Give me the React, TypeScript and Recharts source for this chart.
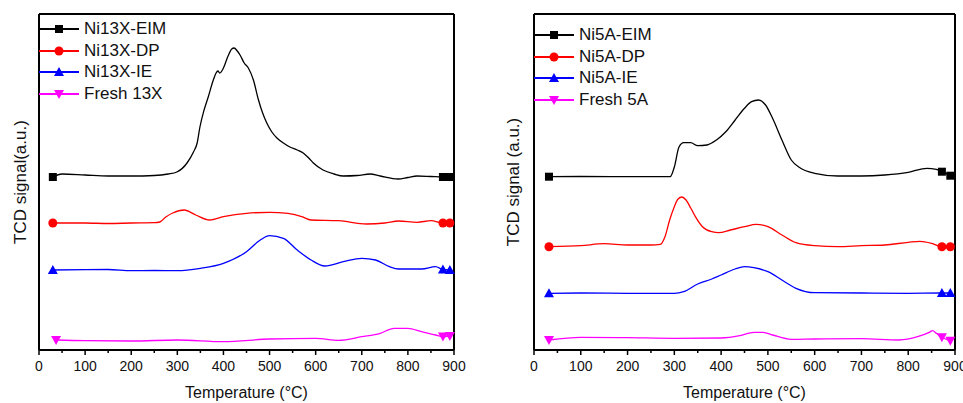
import { LineChart, Line, XAxis, YAxis, Legend } from 'recharts'

type Pt = [number, number]

const FONT = '"Liberation Sans", Arial, sans-serif'

// temperature axis ticks (every 50, labelled every 100)
const tempTicks = [0, 50, 100, 150, 200, 250, 300, 350, 400, 450, 500, 550, 600, 650, 700, 750, 800, 850, 900]

const names13X = ['Ni13X-EIM', 'Ni13X-DP', 'Ni13X-IE', 'Fresh 13X']
const names5A = ['Ni5A-EIM', 'Ni5A-DP', 'Ni5A-IE', 'Fresh 5A']
const colors = ['#000000', '#ff0000', '#0000ff', '#ff00ff']
const shapes = ['square', 'circle', 'triangle', 'down']

// TCD signal, stacked traces (a.u.)
const ni13xEIM: Pt[] = [
  [30, 173], [50, 176], [100, 175], [150, 174], [200, 174], [250, 174.5], [280, 176], [299, 178],
  [321, 187], [335, 198], [343, 207], [349, 223], [358, 240], [367, 253], [378, 270], [384, 277],
  [388, 279], [392, 277], [400, 282], [410, 294], [418, 301], [423, 302], [430, 299], [436, 295],
  [445, 287], [454, 282], [465, 270], [476, 250], [485, 237], [494, 227], [505, 218], [516, 212],
  [530, 207], [544, 203], [560, 200], [573, 197], [585, 192], [595, 187], [616, 180], [640, 176],
  [660, 174], [690, 174.5], [718, 176], [740, 174], [779, 171], [800, 172.5], [820, 174], [850, 173.5],
  [876, 173], [891, 173],
]
const ni13xDP: Pt[] = [
  [30, 127], [100, 127], [150, 126.5], [200, 127], [250, 127.3], [262, 128], [275, 133], [290, 137],
  [315, 140], [340, 135], [370, 130], [400, 133.3], [450, 136.7], [500, 137.7], [540, 136.7], [570, 133.3],
  [590, 130], [650, 129.3], [710, 126], [750, 127], [780, 129], [820, 127.7], [850, 129.3], [876, 127],
  [891, 127],
]
const ni13xIE: Pt[] = [
  [30, 80], [100, 80.3], [150, 80.5], [200, 79.3], [250, 79.5], [300, 79.3], [350, 81.7], [400, 86.7],
  [450, 98.3], [480, 110], [500, 114.3], [530, 111.7], [560, 100], [590, 90], [620, 84], [660, 88.3],
  [700, 91.7], [730, 90], [760, 83.3], [780, 81], [830, 81], [860, 83.3], [876, 80.5], [891, 80],
]
const fresh13X: Pt[] = [
  [37, 10], [100, 9.3], [200, 9], [300, 10], [400, 8.3], [500, 11], [600, 11.7], [650, 9.7],
  [700, 13.3], [740, 16.7], [770, 21.7], [800, 21.7], [830, 18.3], [860, 15], [876, 13.5], [891, 14],
]

const ni5aEIM: Pt[] = [
  [32, 173.3], [100, 173.5], [200, 173.3], [291, 173.3], [300, 183], [310, 203], [320, 207.3], [335, 207.3],
  [350, 204.3], [370, 205], [390, 210], [410, 218.3], [430, 230], [450, 241.7], [465, 248.3], [480, 250],
  [495, 245], [510, 231.7], [530, 210], [550, 190], [570, 181.7], [600, 176.7], [650, 174], [700, 174],
  [750, 175], [800, 177.7], [840, 181.7], [860, 180.7], [872, 178.3], [890, 174.3],
]
const ni5aDP: Pt[] = [
  [32, 103.3], [100, 104.3], [150, 106.3], [200, 105], [250, 105], [270, 105.7], [280, 113.3], [290, 130],
  [300, 143.3], [308, 151], [316, 153], [325, 150], [335, 142], [345, 133.3], [360, 123.3], [380, 118.3],
  [395, 117.3], [420, 120], [450, 123.3], [475, 125.7], [500, 123.3], [530, 115], [560, 107.3], [600, 104.3],
  [650, 103.3], [700, 104.3], [750, 105], [800, 107.7], [825, 108.7], [850, 106.7], [872, 103.3], [890, 103.3],
]
const ni5aIE: Pt[] = [
  [32, 56.7], [100, 57], [200, 56.7], [300, 56.7], [320, 58.3], [350, 66], [380, 71], [400, 75],
  [430, 81], [450, 83.3], [470, 82.3], [500, 78.3], [530, 70], [560, 61.7], [600, 57.3], [700, 57],
  [800, 56.7], [872, 57], [890, 57],
]
const fresh5A: Pt[] = [
  [32, 10], [100, 12.7], [200, 12.3], [300, 11.7], [400, 12], [440, 14.3], [470, 17.7], [490, 17.7],
  [510, 15], [550, 10.7], [600, 11], [700, 11.3], [780, 10], [820, 13.3], [845, 17.7], [852, 19.3],
  [860, 16.7], [872, 12.7], [890, 9.3],
]

// temperatures where the symbol is drawn on each trace
const marks13X = [[30, 876, 891], [30, 876, 891], [30, 876, 891], [37, 876, 891]]
const marks5A = [[32, 872, 890], [32, 872, 890], [32, 872, 890], [32, 872, 890]]

function Marker({ shape, x, y, color }: { shape: string; x: number; y: number; color: string }) {
  if (shape === 'square') return <rect x={x - 4} y={y - 4} width={8} height={8} fill={color} />
  if (shape === 'circle') return <circle cx={x} cy={y} r={4.5} fill={color} />
  if (shape === 'triangle')
    return <polygon points={`${x},${y - 5} ${x + 5},${y + 4} ${x - 5},${y + 4}`} fill={color} />
  return <polygon points={`${x - 5},${y - 4} ${x + 5},${y - 4} ${x},${y + 5}`} fill={color} />
}

function BottomTick(props: any) {
  const { x, y, payload } = props
  const major = payload.value % 100 === 0
  return (
    <g>
      <line x1={x} y1={y} x2={x} y2={y + (major ? 5 : 3)} stroke="#000" strokeWidth={1.5} />
      {major && (
        <text x={x} y={y + 21} textAnchor="middle" fontSize={14} fontFamily={FONT} fill="#111">
          {payload.value}
        </text>
      )}
    </g>
  )
}

// inward ticks on the mirrored top axis
function TopTick(props: any) {
  const { x, y } = props
  return <line x1={x} y1={y} x2={x} y2={y + 4} stroke="#000" strokeWidth={1.5} />
}

interface PanelProps {
  series: Pt[][]
  names: string[]
  marks: number[][]
  width: number
  margin: { top: number; right: number; bottom: number; left: number }
  yLabel: string
  yLabelOffset: number
  legendLeft: number
  legendTop: number
}

function Panel({ series, names, marks, width, margin, yLabel, yLabelOffset, legendLeft, legendTop }: PanelProps) {
  return (
    <LineChart width={width} height={403} margin={margin}>
      <XAxis
        xAxisId="b"
        type="number"
        dataKey="t"
        domain={[0, 900]}
        ticks={tempTicks}
        interval={0}
        height={30}
        tickSize={0}
        tickMargin={0}
        tickLine={false}
        tick={<BottomTick />}
        axisLine={{ stroke: '#000', strokeWidth: 2 }}
        label={{ value: 'Temperature (°C)', position: 'bottom', offset: 7, fontSize: 16, fill: '#111', fontFamily: FONT }}
      />
      <XAxis
        xAxisId="top"
        orientation="top"
        mirror
        type="number"
        domain={[0, 900]}
        ticks={tempTicks}
        interval={0}
        height={5}
        tickSize={0}
        tickMargin={0}
        tickLine={false}
        tick={<TopTick />}
        axisLine={{ stroke: '#000', strokeWidth: 2 }}
      />
      <YAxis
        yAxisId="l"
        domain={[0, 336]}
        width={1}
        tick={false}
        tickLine={false}
        axisLine={{ stroke: '#000', strokeWidth: 2 }}
        label={{
          value: yLabel,
          angle: -90,
          position: 'left',
          offset: yLabelOffset,
          fontSize: 17,
          fill: '#111',
          fontFamily: FONT,
          style: { textAnchor: 'middle' },
        }}
      />
      <YAxis
        yAxisId="r"
        orientation="right"
        domain={[0, 336]}
        width={1}
        tick={false}
        tickLine={false}
        axisLine={{ stroke: '#000', strokeWidth: 2 }}
      />
      <Legend
        layout="vertical"
        align="center"
        verticalAlign="middle"
        wrapperStyle={{ left: legendLeft, top: legendTop, width: 'auto' }}
        content={() => (
          <div style={{ fontFamily: FONT, fontSize: 17, color: '#111' }}>
            {names.map((n, i) => (
              <div key={n} style={{ display: 'flex', alignItems: 'center', height: 21.7 }}>
                <svg width={41} height={12}>
                  <line x1={0} y1={6} x2={40} y2={6} stroke={colors[i]} strokeWidth={2} />
                  <Marker shape={shapes[i]} x={20} y={6} color={colors[i]} />
                </svg>
                <span style={{ marginLeft: 4 }}>{n}</span>
              </div>
            ))}
          </div>
        )}
      />
      {series.map((pts, i) => (
        <Line
          key={names[i]}
          xAxisId="b"
          yAxisId="l"
          name={names[i]}
          data={pts.map(([t, v]) => ({ t, v }))}
          dataKey="v"
          type="monotone"
          stroke={colors[i]}
          strokeWidth={1.3}
          isAnimationActive={false}
          dot={(p: any) =>
            marks[i].includes(p.payload.t) ? (
              <Marker key={p.index} shape={shapes[i]} x={p.cx} y={p.cy} color={colors[i]} />
            ) : (
              <g key={p.index} />
            )
          }
          activeDot={false}
        />
      ))}
    </LineChart>
  )
}

export default function App() {
  return (
    <div style={{ position: 'absolute', left: 0, top: 0, width: 963, height: 403, background: '#fff', display: 'flex' }}>
      <Panel
        series={[ni13xEIM, ni13xDP, ni13xIE, fresh13X]}
        names={names13X}
        marks={marks13X}
        width={480}
        margin={{ top: 14, right: 25, bottom: 23, left: 38 }}
        yLabel="TCD signal(a.u.)"
        yLabelOffset={18}
        legendLeft={39}
        legendTop={18}
      />
      <Panel
        series={[ni5aEIM, ni5aDP, ni5aIE, fresh5A]}
        names={names5A}
        marks={marks5A}
        width={483}
        margin={{ top: 14, right: 7, bottom: 23, left: 53 }}
        yLabel="TCD signal (a.u.)"
        yLabelOffset={20}
        legendLeft={54}
        legendTop={24}
      />
    </div>
  )
}
